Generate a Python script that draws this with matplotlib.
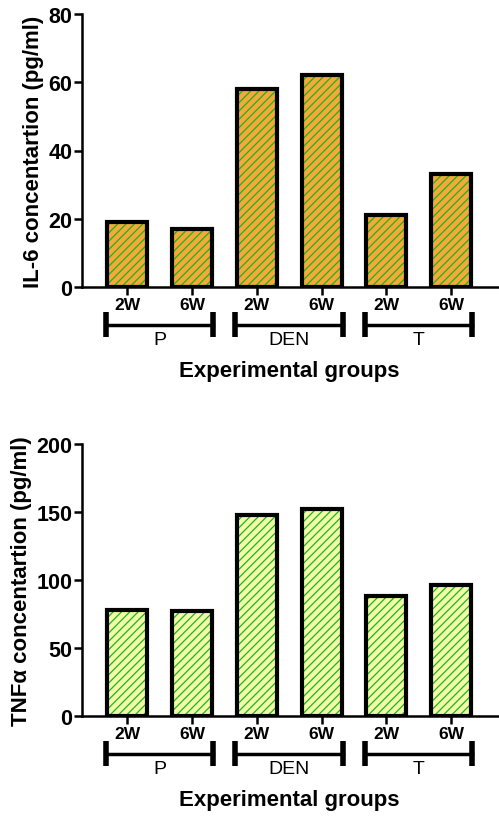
import matplotlib.pyplot as plt
import matplotlib.transforms as mtransforms
import numpy as np

plt.rcParams['font.family'] = ['Liberation Sans', 'DejaVu Sans']
plt.rcParams['hatch.linewidth'] = 0.9

weeks = ['2W', '6W', '2W', '6W', '2W', '6W']
groups = ['P', 'DEN', 'T']
il6 = [19, 17, 58, 62, 21, 33]
tnf = [78, 77, 148, 152, 88, 96]

fig = plt.figure(figsize=(4.99, 8.2), dpi=100)
W, H = 499, 820


def panel(top_px, bot_px, values, ymax, ystep, ylabel, face):
    ax = fig.add_axes([82 / W, 1 - bot_px / H, (W - 82) / W, (bot_px - top_px) / H])
    h = bot_px - top_px
    x = np.arange(len(values))
    bars = ax.bar(x, values, width=0.62, color=face, edgecolor='black', linewidth=3,
                  hatch='////', zorder=2)
    for p in bars:
        p._hatch_color = (0.12, 0.70, 0.12, 1.0)
    ax.set_xlim(-0.7, 5.74)
    ax.set_ylim(0, ymax)
    ax.set_yticks(np.arange(0, ymax + 1, ystep))
    ax.set_xticks(x)
    ax.set_xticklabels(weeks, fontsize=12.5, fontweight='bold')
    for lab in ax.get_yticklabels():
        lab.set_fontsize(15.5)
        lab.set_fontweight('bold')
    ax.spines['top'].set_visible(False)
    ax.spines['right'].set_visible(False)
    ax.spines['left'].set_linewidth(1.8)
    ax.spines['bottom'].set_linewidth(1.8)
    ax.tick_params(axis='y', width=1.8, length=6, pad=1)
    ax.tick_params(axis='x', width=1.8, length=6, pad=1)
    ax.set_ylabel(ylabel, fontsize=16, fontweight='bold', labelpad=3)

    # group brackets under the week labels
    trans = mtransforms.blended_transform_factory(ax.transData, ax.transAxes)
    ybr = -38 / h
    for i, g in enumerate(groups):
        x0 = 2 * i - 0.33
        x1 = 2 * i + 1 + 0.33
        ax.plot([x0, x1], [ybr, ybr], color='black', lw=2.5, transform=trans, clip_on=False)
        for xe in (x0, x1):
            ax.plot([xe, xe], [-25 / h, -50 / h], color='black', lw=4,
                    transform=trans, clip_on=False, solid_capstyle='butt')
        ax.text(2 * i + 0.5, -53 / h, g, fontsize=14, ha='center', va='center',
                transform=trans)
    ax.text(2.5, -84 / h, 'Experimental groups', fontsize=16, fontweight='bold',
            ha='center', va='center', transform=trans)
    return ax


ax1 = panel(15, 288, il6, 80, 20, 'IL-6 concentartion (pg/ml)', '#F5A93A')
ax2 = panel(445, 717, tnf, 200, 50, 'TNFα concentartion (pg/ml)', '#F2FCA8')

fig.savefig('out.png', dpi=100)
